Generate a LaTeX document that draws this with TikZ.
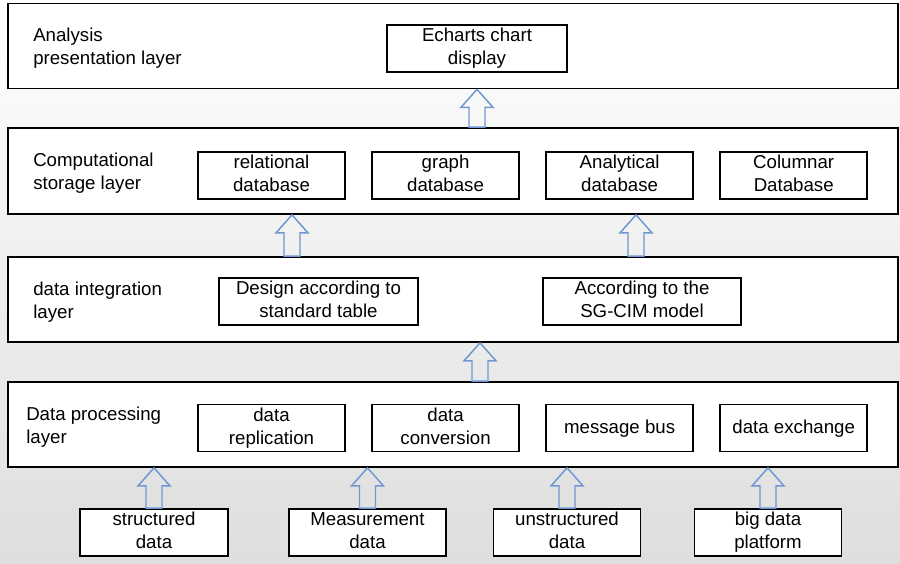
\documentclass[tikz,border=0pt]{standalone}
\usepackage{fontspec}
\setmainfont{Liberation Sans}
\usetikzlibrary{positioning, calc}
\definecolor{arrowblue}{RGB}{112,150,212}
\newcommand{\hollowarrow}[2]{%
  \draw[arrowblue, line width=1.1pt, line join=miter] let \p1=(#1), \p2=(#2) in
    (\x1-6pt,\y1) -- (\x1-6pt,\y2-13.5pt) -- (\x1-12pt,\y2-13.5pt) -- (\x1,\y2)
    -- (\x1+12pt,\y2-13.5pt) -- (\x1+6pt,\y2-13.5pt) -- (\x1+6pt,\y1) -- cycle;}

\begin{document}
\begin{tikzpicture}[x=0.75pt, y=-0.75pt, node distance=19pt,
    font=\fontsize{14pt}{17.5pt}\selectfont,
    layerbox/.style={draw, fill=white, line width=1.3pt, minimum width=667.5pt, minimum height=63.75pt, inner sep=0pt},
    unitbox/.style={draw, fill=white, line width=1.3pt, align=center, minimum width=110.25pt, minimum height=35.25pt, inner sep=0pt,
      execute at begin node=\rule{0pt}{15pt}, execute at end node=\vphantom{y}},
    oneline/.style={text height=11pt, text depth=3pt},
    layername/.style={anchor=west, align=left, inner sep=0pt}]
    \fill[top color=white, bottom color=black!13] (0,0) rectangle (900,564);
    \useasboundingbox (0,0) rectangle (900,564);

    % layers
    \node[layerbox] (present) at (453,46) {};
    \node[layerbox, minimum height=64.5pt] (compute) at (453,171) {};
    \node[layerbox] (integ) at (453,299.5) {};
    \node[layerbox] (proc) at (453,424.5) {};
    \node[layername] (present label) at (33,48) {Analysis\\presentation layer};
    \node[layername] (compute label) at (33,173) {Computational\\storage layer};
    \node[layername] (integ label) at (33,302) {data integration\\layer};
    \node[layername] (proc label) at (26,427) {Data processing\\layer};

    % units
    \node[unitbox, minimum width=135pt] (echarts) at (477,48.5) {Echarts chart\\display};
    \node[unitbox] (reldb) at (271.5,175.5) {relational\\database};
    \node[unitbox, right=of reldb] (graphdb) {graph\\database};
    \node[unitbox, right=of graphdb] (anadb) {Analytical\\database};
    \node[unitbox, right=of anadb] (coldb) {Columnar\\Database};
    \node[unitbox, minimum width=149pt] (design) at (318.5,301.5) {Design according to\\standard table};
    \node[unitbox, minimum width=149pt] (sgcim) at (642,301.5) {According to the\\SG-CIM model};
    \node[unitbox] (repl) at (271.5,428) {data\\replication};
    \node[unitbox, right=of repl] (conv) {data\\conversion};
    \node[unitbox, oneline, right=of conv] (bus) {message bus};
    \node[unitbox, oneline, right=of bus] (exch) {data exchange};
    \node[unitbox, minimum width=111pt] (struct) at (154,532.5) {structured\\data};
    \node[unitbox, minimum width=118pt] (meas) at (367.5,532.5) {Measurement\\data};
    \node[unitbox] (unstruct) at (567,532.5) {unstructured\\data};
    \node[unitbox] (bigdata) at (768,532.5) {big data\\platform};

    % arrows
    \coordinate (ax left) at (292,0);
    \coordinate (ax right) at (636,0);
    \coordinate (ax mid) at (480,0);
    \hollowarrow{compute.north -| echarts}{present.south -| echarts}
    \hollowarrow{integ.north -| ax left}{compute.south -| ax left}
    \hollowarrow{integ.north -| ax right}{compute.south -| ax right}
    \hollowarrow{proc.north -| ax mid}{integ.south -| ax mid}
    \hollowarrow{struct.north}{proc.south -| struct}
    \hollowarrow{meas.north}{proc.south -| meas}
    \hollowarrow{unstruct.north}{proc.south -| unstruct}
    \hollowarrow{bigdata.north}{proc.south -| bigdata}
\end{tikzpicture}
\end{document}
